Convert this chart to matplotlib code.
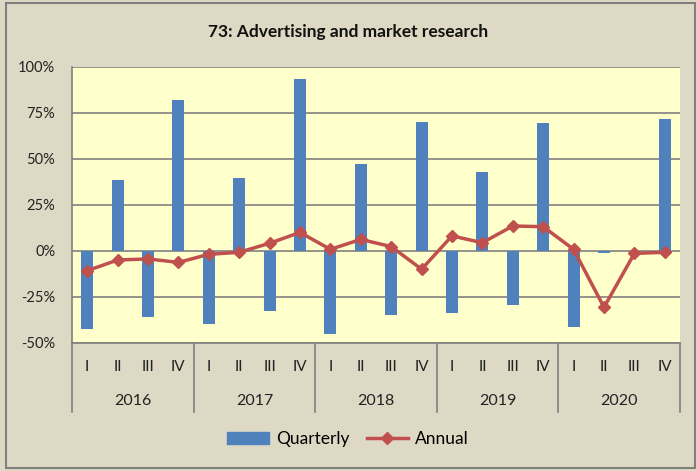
import matplotlib.pyplot as plt
from matplotlib.patches import Rectangle
from matplotlib.lines import Line2D
import matplotlib.transforms as mtransforms

plt.rcParams['font.family'] = ['Lato', 'DejaVu Sans']

years = ['2016', '2017', '2018', '2019', '2020']
quarters = ['I', 'II', 'III', 'IV']
quarterly = [-42.4, 38.6, -36.0, 82.0,
             -39.7, 39.5, -32.4, 93.3,
             -45.3, 47.3, -35.0, 70.0,
             -33.9, 42.8, -29.3, 69.4,
             -41.1, -1.0, 0.0, 71.9]
annual = [-10.7, -4.9, -4.3, -6.2,
          -1.8, -0.7, 4.2, 10.1,
          0.9, 6.3, 2.4, -9.9,
          8.2, 4.5, 13.6, 13.2,
          0.9, -30.6, -1.3, -0.7]

bg = '#DDD9C4'
fig = plt.figure(figsize=(6.96, 4.71), dpi=100, facecolor=bg)
fig.patches.append(Rectangle((6/696, 3/471), 689/696, 465/471, transform=fig.transFigure,
                             fill=False, edgecolor='#808080', linewidth=1.5))
ax = fig.add_axes([72/696, 1 - 343/471, 608/696, 276/471])
ax.set_facecolor('#FFFFCC')

x = list(range(len(quarterly)))
ax.bar(x, quarterly, width=0.4, color='#4F81BD', zorder=2)
ax.plot(x, annual, color='#C0504D', linewidth=2.5, marker='D', markersize=6, zorder=3)

ax.set_xlim(-0.5, len(x) - 0.5)
ax.set_ylim(-50, 100)
ax.set_yticks([-50, -25, 0, 25, 50, 75, 100])
ax.set_yticklabels(['-50%', '-25%', '0%', '25%', '50%', '75%', '100%'], fontsize=10.5, color='#222222')
ax.tick_params(axis='y', length=0, pad=12)
ax.set_xticks([])
ax.grid(axis='y', color='#808080', linewidth=1.2, zorder=1)
for s in ['top', 'right']:
    ax.spines[s].set_visible(False)
ax.spines['left'].set_color('#808080')
ax.spines['bottom'].set_color('#808080')
ax.spines['left'].set_linewidth(1.2)
ax.spines['bottom'].set_linewidth(1.2)

trans = mtransforms.blended_transform_factory(ax.transData, fig.transFigure)
for i in x:
    ax.text(i, 1 - 367/471, quarters[i % 4], transform=trans, ha='center', va='center',
            fontsize=11, color='#222222')
for j, yr in enumerate(years):
    ax.text(j * 4 + 1.5, 1 - 401/471, yr, transform=trans, ha='center', va='center',
            fontsize=11.5, color='#222222')
for b in range(len(years) + 1):
    ax.add_line(Line2D([b * 4 - 0.5] * 2, [1 - 343/471, 1 - 412/471], transform=trans,
                       color='#808080', linewidth=1.2, clip_on=False))

fig.text(0.5, 1 - 32/471, '73: Advertising and market research', ha='center', va='center',
         fontsize=12.5, fontweight='bold', color='#111111')

handles = [Rectangle((0, 0), 1, 1, color='#4F81BD'),
           Line2D([], [], color='#C0504D', linewidth=2.5, marker='D', markersize=6)]
fig.legend(handles, ['Quarterly', 'Annual'], loc='center', bbox_to_anchor=(0.5, 1 - 439/471),
           ncol=2, frameon=False, fontsize=12.5, handlelength=2.4, handletextpad=0.4,
           columnspacing=1.0)

fig.savefig('out.png', dpi=100, facecolor=bg)
